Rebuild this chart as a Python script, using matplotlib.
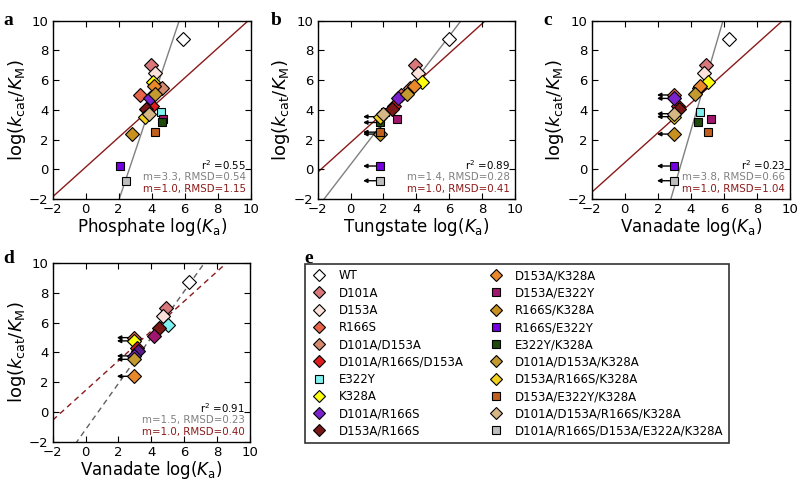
import numpy as np
import matplotlib
matplotlib.use('Agg')
import matplotlib.pyplot as plt
from matplotlib.lines import Line2D

# mutants, colours and marker kind (squares = E322Y containing)
mutants = ['WT', 'D101A', 'D153A', 'R166S', 'D101A/D153A', 'D101A/R166S/D153A',
           'E322Y', 'K328A', 'D101A/R166S', 'D153A/R166S',
           'D153A/K328A', 'D153A/E322Y', 'R166S/K328A', 'R166S/E322Y', 'E322Y/K328A',
           'D101A/D153A/K328A', 'D153A/R166S/K328A', 'D153A/E322Y/K328A',
           'D101A/D153A/R166S/K328A', 'D101A/R166S/D153A/E322A/K328A']
colours = ['#ffffff', '#d8787a', '#fde2dc', '#e8644a', '#d48a6c', '#dc1e1e',
           '#80f2f2', '#ffff10', '#7a22cc', '#7a1818',
           '#e8882a', '#a0166e', '#c8901e', '#7400e0', '#1e4a0a',
           '#c49a30', '#f2d020', '#c0601e', '#d6b684', '#bdbdbd']
markers = ['D', 'D', 'D', 'D', 'D', 'D', 's', 'D', 'D', 'D',
           'D', 's', 'D', 's', 's', 'D', 'D', 's', 'D', 's']

# log(kcat/KM), same for every panel
log_kcat_km = [8.77, 7.0, 6.45, 5.0, 5.5, 4.28, 3.85, 5.87, 4.77, 4.08,
               5.62, 3.37, 2.37, 0.22, 3.15, 5.08, 3.54, 2.5, 3.74, -0.77]

# log(Ka) per anion
phosphate = [5.9, 3.96, 4.2, 3.3, 4.63, 4.04, 4.59, 4.1, 3.9, 3.66,
             4.16, 4.67, 2.8, 2.08, 4.6, 4.2, 3.58, 4.22, 3.84, 2.44]
tungstate = [5.97, 3.94, 4.13, 3.05, 3.6, 2.64, 2.07, 4.33, 2.87, 2.5,
             3.88, 2.84, 1.81, 1.81, 1.81, 3.45, 1.81, 1.81, 1.99, 1.81]
tungstate_bound = [0, 0, 0, 0, 0, 0, 0, 0, 0, 0,
                   0, 0, 1, 1, 1, 0, 1, 1, 0, 1]
vanadate = [6.33, 4.9, 4.79, 3.0, 4.49, 3.2, 4.57, 5.06, 3.0, 3.28,
            4.57, 5.22, 3.0, 3.0, 4.45, 4.25, 3.0, 5.02, 3.0, 3.0]
vanadate_bound = [0, 0, 0, 1, 0, 0, 0, 0, 1, 0,
                  0, 0, 1, 1, 0, 0, 1, 0, 1, 1]

# panel d subset
d_x = [6.26, 4.88, 4.73, 5.04, 4.49, 4.19, 2.95, 2.95, 3.1, 3.2, 2.95, 2.95, 2.95]
d_y = [8.77, 7.02, 6.46, 5.88, 5.62, 5.1, 5.0, 4.78, 4.3, 4.12, 3.77, 3.54, 2.4]
d_bound = [0, 0, 0, 0, 0, 0, 1, 1, 0, 0, 1, 1, 1]
d_colours = ['#ffffff', '#d8787a', '#fde2dc', '#80f2f2', '#7a1818', '#a0166e',
             '#e8644a', '#ffff10', '#dc1e1e', '#5a1a8a', '#7a22cc', '#c49a30', '#e8882a']

# fits: (grey slope, grey intercept, red intercept), texts
fit_params = {
    'a': (3.3, -8.7, 0.15),
    'b': (1.44, 0.32, 1.8),
    'c': (3.8, -12.6, 0.45),
    'd': (1.55, -1.18, 1.45),
}
fit_text = {
    'a': ('0.55', 'm=3.3, RMSD=0.54', 'm=1.0, RMSD=1.15'),
    'b': ('0.89', 'm=1.4, RMSD=0.28', 'm=1.0, RMSD=0.41'),
    'c': ('0.23', 'm=3.8, RMSD=0.66', 'm=1.0, RMSD=1.04'),
    'd': ('0.91', 'm=1.5, RMSD=0.23', 'm=1.0, RMSD=0.40'),
}
xlabels = {'a': 'Phosphate', 'b': 'Tungstate', 'c': 'Vanadate', 'd': 'Vanadate'}

RED = '#8b1a1a'
GREY = '#808080'

fig = plt.figure(figsize=(8, 4.8), dpi=100)

boxes = {
    'a': [0.0659, 0.5854, 0.2475, 0.3715],
    'b': [0.3971, 0.5854, 0.2466, 0.3715],
    'c': [0.7396, 0.5854, 0.2479, 0.3715],
    'd': [0.0659, 0.0798, 0.2466, 0.3717],
}
letter_pos = {'a': (0.004, 0.975), 'b': (0.338, 0.975), 'c': (0.679, 0.975), 'd': (0.004, 0.48)}


def style_axes(ax, key):
    ax.set_xlim(-2, 10)
    ax.set_ylim(-2, 10)
    ax.set_xticks(range(-2, 11, 2))
    ax.set_yticks(range(-2, 11, 2))
    ax.tick_params(direction='in', top=True, right=True, length=4.5, labelsize=9.5, pad=3)
    ax.set_xlabel(xlabels[key] + r' log($K_\mathrm{a}$)', fontsize=12, labelpad=0)
    ax.set_ylabel(r'log($k_\mathrm{cat}/K_\mathrm{M}$)', fontsize=13, labelpad=1)
    for s in ax.spines.values():
        s.set_linewidth(1.0)


def draw_fits(ax, key, dashed=False):
    m, b, rb = fit_params[key]
    xs = np.array([-2, 10])
    ls = (0, (4, 3)) if dashed else '-'
    gcol = '#606060' if dashed else GREY
    ax.plot(xs, m * xs + b, color=gcol, lw=1, ls=ls, zorder=1)
    ax.plot(xs, xs + rb, color=RED, lw=1, ls=ls, zorder=1)
    r2, t1, t2 = fit_text[key]
    ax.text(0.975, 0.19, r'r$^2$ =' + r2, transform=ax.transAxes, ha='right', va='center',
            fontsize=7.4, color='black')
    ax.text(0.975, 0.122, t1, transform=ax.transAxes, ha='right', va='center',
            fontsize=7.4, color=GREY)
    ax.text(0.975, 0.055, t2, transform=ax.transAxes, ha='right', va='center',
            fontsize=7.4, color=RED)


def draw_points(ax, xs, ys, cols, marks, bounds):
    for x, y, c, mk, bd in zip(xs, ys, cols, marks, bounds):
        if bd:
            ax.annotate('', xy=(x - 1.05, y), xytext=(x - 0.28, y),
                        arrowprops=dict(arrowstyle='-|>', color='k', lw=1,
                                        mutation_scale=6, shrinkA=0, shrinkB=0),
                        zorder=2)
        ms = 6.8 if mk == 'D' else 5.8
        ax.plot(x, y, marker=mk, ms=ms, mfc=c, mec='black', mew=0.8, ls='none', zorder=3)


datasets = {'a': (phosphate, [0] * 20), 'b': (tungstate, tungstate_bound),
            'c': (vanadate, vanadate_bound)}

for key in ['a', 'b', 'c']:
    ax = fig.add_axes(boxes[key])
    draw_fits(ax, key)
    xs, bd = datasets[key]
    draw_points(ax, xs, log_kcat_km, colours, markers, bd)
    style_axes(ax, key)

ax = fig.add_axes(boxes['d'])
draw_fits(ax, 'd', dashed=True)
draw_points(ax, d_x, d_y, d_colours, ['D'] * len(d_x), d_bound)
style_axes(ax, 'd')

for key, (lx, ly) in letter_pos.items():
    fig.text(lx, ly, key, fontsize=14, fontweight='bold', family='Liberation Serif',
             ha='left', va='top')
fig.text(0.381, 0.48, 'e', fontsize=14, fontweight='bold', family='Liberation Serif',
         ha='left', va='top')

handles = []
for name, c, mk in zip(mutants, colours, markers):
    ms = 6.5 if mk == 'D' else 5.5
    handles.append(Line2D([], [], marker=mk, ms=ms, mfc=c, mec='black', mew=0.8,
                          ls='none', label=name))

leg = fig.legend(handles=handles, ncol=2, loc='upper left', bbox_to_anchor=(0.381, 0.45),
                 fontsize=8.5, frameon=True, fancybox=False, edgecolor='#333333',
                 framealpha=1, labelspacing=0.36, handlelength=1.5, handletextpad=0.9,
                 columnspacing=2.0, borderpad=0.45, borderaxespad=0)
leg.get_frame().set_linewidth(1.2)

fig.savefig('out.png', dpi=100)
